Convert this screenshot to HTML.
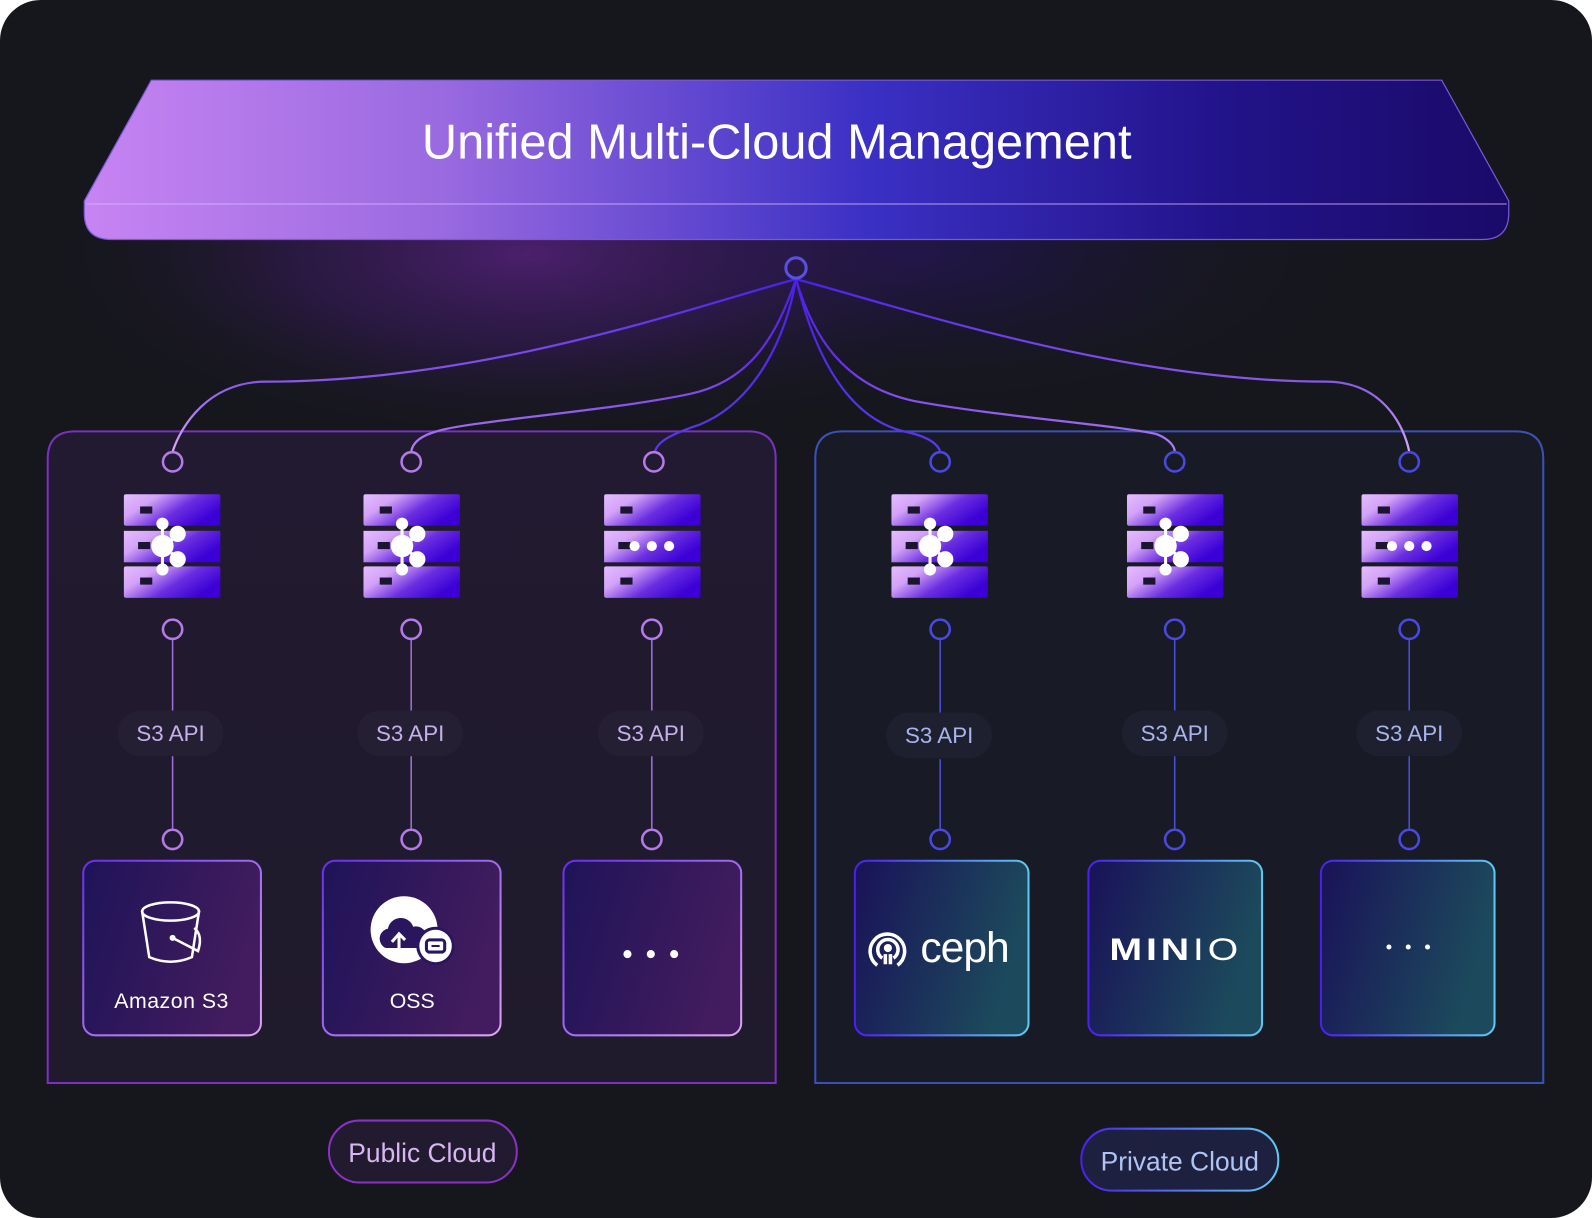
<!DOCTYPE html>
<html><head><meta charset="utf-8"><style>
html,body{margin:0;padding:0;background:#fff;}
svg{display:block;}
text{font-family:"Liberation Sans",sans-serif;}
</style></head><body>
<svg width="1592" height="1218" viewBox="0 0 1568 1200" preserveAspectRatio="none" xmlns="http://www.w3.org/2000/svg">
<defs>
<linearGradient id="ban" x1="0" x2="1" y1="0" y2="0">
<stop offset="0" stop-color="#c784f2"/><stop offset="0.25" stop-color="#9a6ae0"/><stop offset="0.55" stop-color="#3a30c4"/><stop offset="0.8" stop-color="#22138a"/><stop offset="1" stop-color="#1a0a68"/>
</linearGradient>
<radialGradient id="glow" cx="0.5" cy="0.5" r="0.5">
<stop offset="0" stop-color="#4e2070" stop-opacity="0.95"/><stop offset="0.5" stop-color="#3a1a60" stop-opacity="0.5"/><stop offset="1" stop-color="#16171d" stop-opacity="0"/>
</radialGradient>
<radialGradient id="glow2" cx="0.5" cy="0.5" r="0.5">
<stop offset="0" stop-color="#2a1470" stop-opacity="0.6"/><stop offset="1" stop-color="#16171d" stop-opacity="0"/>
</radialGradient>
<clipPath id="below"><rect x="0" y="236" width="1568" height="300"/></clipPath>
<linearGradient id="cg1" gradientUnits="userSpaceOnUse" x1="0" y1="275" x2="0" y2="445">
<stop offset="0" stop-color="#4a20e8"/><stop offset="0.6" stop-color="#8a58e8"/><stop offset="1" stop-color="#d8a8f8"/>
</linearGradient>
<linearGradient id="cg2" gradientUnits="userSpaceOnUse" x1="0" y1="275" x2="0" y2="445">
<stop offset="0" stop-color="#4a20e8"/><stop offset="0.5" stop-color="#6a30e8"/><stop offset="1" stop-color="#b080f0"/>
</linearGradient>
<linearGradient id="cg3" gradientUnits="userSpaceOnUse" x1="0" y1="275" x2="0" y2="445">
<stop offset="0" stop-color="#4a20e8"/><stop offset="1" stop-color="#5a38e8"/>
</linearGradient>
<linearGradient id="srv" x1="0" y1="0" x2="1" y2="0.5">
<stop offset="0" stop-color="#e4bcff"/><stop offset="0.3" stop-color="#d3a2f8"/><stop offset="0.65" stop-color="#6a2ee0"/><stop offset="1" stop-color="#3a00d6"/>
</linearGradient>
<linearGradient id="lbox" x1="0" y1="0" x2="1" y2="0.3">
<stop offset="0" stop-color="#1e1458"/><stop offset="1" stop-color="#421c5e"/>
</linearGradient>
<linearGradient id="lboxs" x1="0" y1="0" x2="1" y2="1">
<stop offset="0" stop-color="#6a2cf0"/><stop offset="1" stop-color="#d8a8f0"/>
</linearGradient>
<linearGradient id="rbox" x1="0" y1="0" x2="1" y2="0.3">
<stop offset="0" stop-color="#1a1258"/><stop offset="1" stop-color="#1c4a5c"/>
</linearGradient>
<linearGradient id="rboxs" x1="0" y1="0" x2="1" y2="0">
<stop offset="0" stop-color="#4a20f0"/><stop offset="1" stop-color="#60c8f0"/>
</linearGradient>
<linearGradient id="lcont" x1="0" y1="0" x2="0" y2="1">
<stop offset="0" stop-color="#221a30"/><stop offset="1" stop-color="#1f1a2c"/>
</linearGradient>
<g id="srvbody">
<rect x="0" y="0" width="95" height="31" rx="2" fill="url(#srv)"/>
<rect x="0" y="36" width="95" height="31" rx="0" fill="url(#srv)"/>
<rect x="0" y="71" width="95" height="31" rx="2" fill="url(#srv)"/>
<rect x="16" y="12" width="12" height="7" fill="#1b1530"/>
<rect x="14" y="47" width="12" height="7" fill="#1b1530"/>
<rect x="16" y="82" width="12" height="7" fill="#1b1530"/>
</g>
<g id="hubicon" fill="#fff" stroke="#fff" stroke-width="3">
<line x1="38" y1="51" x2="38" y2="30"/><line x1="38" y1="51" x2="38" y2="73"/>
<line x1="38" y1="51" x2="52" y2="42"/><line x1="38" y1="51" x2="52" y2="62"/>
<circle cx="38" cy="51" r="11" stroke="none"/>
<circle cx="38" cy="29" r="6" stroke="none"/><circle cx="38" cy="74" r="6" stroke="none"/>
<circle cx="53" cy="39" r="8" stroke="none"/><circle cx="53" cy="64" r="8" stroke="none"/>
</g>
<g id="dots" fill="#fff"><circle cx="30" cy="51" r="5"/><circle cx="47" cy="51" r="5"/><circle cx="64" cy="51" r="5"/></g>
</defs>
<rect x="0" y="0" width="1568" height="1200" rx="40" fill="#16171d"/>
<g clip-path="url(#below)">
<ellipse cx="900" cy="250" rx="450" ry="170" fill="url(#glow2)"/>
<ellipse cx="520" cy="250" rx="480" ry="190" fill="url(#glow)"/>
</g>
<!-- banner -->
<path d="M149,79 L1420,79 L1486,198 L1486,210 Q1486,236 1460,236 L110,236 Q83,236 83,210 L83,198 Z" fill="url(#ban)" stroke="#7a58d8" stroke-width="1.2"/>
<line x1="85" y1="201" x2="1484" y2="201" stroke="#d8b8ff" stroke-opacity="0.55" stroke-width="1.5"/>
<text x="765" y="156" text-anchor="middle" font-size="48" fill="#fff">Unified Multi-Cloud Management</text>
<!-- containers -->
<path d="M47,1067 L47,452 Q47,425 74,425 L737,425 Q764,425 764,452 L764,1067 Z" fill="url(#lcont)" stroke="#7a30c0" stroke-width="2"/>
<path d="M803,1067 L803,452 Q803,425 830,425 L1493,425 Q1520,425 1520,452 L1520,1067 Z" fill="#181a26" stroke="#3a52b8" stroke-width="2"/>
<!-- connectors -->
<g fill="none" stroke-width="2.2">
<path d="M784,275 C690,300 480,376 262,376 C205,376 178,420 170,445" stroke="url(#cg1)"/>
<path d="M784,275 C765,330 740,375 680,388 C600,405 460,415 430,425 C412,430 406,438 405,445" stroke="url(#cg2)"/>
<path d="M784,275 C775,330 745,395 690,418 C660,428 648,435 645,445" stroke="url(#cg3)"/>
<path d="M784,275 C800,340 830,410 890,425 C915,430 924,438 926,445" stroke="url(#cg3)"/>
<path d="M784,275 C800,330 830,380 900,395 C980,410 1110,420 1140,428 C1152,433 1157,440 1157,445" stroke="url(#cg2)"/>
<path d="M784,275 C880,300 1100,376 1306,376 C1362,376 1383,420 1388,445" stroke="url(#cg1)"/>
</g>
<circle cx="784" cy="264" r="10" fill="none" stroke="#5a50e0" stroke-width="3"/>
<g stroke-width="2.5" fill="none">
<g stroke="#b47ae8">
<circle cx="170" cy="455" r="9.5"/><circle cx="405" cy="455" r="9.5"/><circle cx="644" cy="455" r="9.5"/>
<circle cx="170" cy="620" r="9.5"/><circle cx="405" cy="620" r="9.5"/><circle cx="642" cy="620" r="9.5"/>
<circle cx="170" cy="827" r="9.5"/><circle cx="405" cy="827" r="9.5"/><circle cx="642" cy="827" r="9.5"/>
</g>
<g stroke="#4a48e0">
<circle cx="926" cy="455" r="9.5"/><circle cx="1157" cy="455" r="9.5"/><circle cx="1388" cy="455" r="9.5"/>
<circle cx="926" cy="620" r="9.5"/><circle cx="1157" cy="620" r="9.5"/><circle cx="1388" cy="620" r="9.5"/>
<circle cx="926" cy="827" r="9.5"/><circle cx="1157" cy="827" r="9.5"/><circle cx="1388" cy="827" r="9.5"/>
</g>
</g>
<g stroke-width="1.5">
<g stroke="#a070d8">
<line x1="170" y1="630" x2="170" y2="700"/><line x1="170" y1="745" x2="170" y2="817"/>
<line x1="405" y1="630" x2="405" y2="700"/><line x1="405" y1="745" x2="405" y2="817"/>
<line x1="642" y1="630" x2="642" y2="700"/><line x1="642" y1="745" x2="642" y2="817"/>
</g>
<g stroke="#4a50d8">
<line x1="926" y1="630" x2="926" y2="702"/><line x1="926" y1="748" x2="926" y2="817"/>
<line x1="1157" y1="630" x2="1157" y2="700"/><line x1="1157" y1="745" x2="1157" y2="817"/>
<line x1="1388" y1="630" x2="1388" y2="700"/><line x1="1388" y1="745" x2="1388" y2="817"/>
</g>
</g>
<!-- servers -->
<use href="#srvbody" x="122" y="487"/><use href="#hubicon" x="122" y="487"/>
<use href="#srvbody" x="358" y="487"/><use href="#hubicon" x="358" y="487"/>
<use href="#srvbody" x="595" y="487"/><use href="#dots" x="595" y="487"/>
<use href="#srvbody" x="878" y="487"/><use href="#hubicon" x="878" y="487"/>
<use href="#srvbody" x="1110" y="487"/><use href="#hubicon" x="1110" y="487"/>
<use href="#srvbody" x="1341" y="487"/><use href="#dots" x="1341" y="487"/>
<!-- S3 API pills -->
<g font-size="22">
<rect x="116" y="700" width="104" height="45" rx="22" fill="#251f33"/><text x="168" y="730" text-anchor="middle" fill="#c4b0ea">S3 API</text>
<rect x="352" y="700" width="104" height="45" rx="22" fill="#251f33"/><text x="404" y="730" text-anchor="middle" fill="#c4b0ea">S3 API</text>
<rect x="589" y="700" width="104" height="45" rx="22" fill="#251f33"/><text x="641" y="730" text-anchor="middle" fill="#c4b0ea">S3 API</text>
<rect x="873" y="702" width="104" height="45" rx="22" fill="#1e2030"/><text x="925" y="732" text-anchor="middle" fill="#a8b4ea">S3 API</text>
<rect x="1105" y="700" width="104" height="45" rx="22" fill="#1e2030"/><text x="1157" y="730" text-anchor="middle" fill="#a8b4ea">S3 API</text>
<rect x="1336" y="700" width="104" height="45" rx="22" fill="#1e2030"/><text x="1388" y="730" text-anchor="middle" fill="#a8b4ea">S3 API</text>
</g>
<!-- boxes -->
<rect x="82" y="848" width="175" height="172" rx="12" fill="url(#lbox)" stroke="url(#lboxs)" stroke-width="2"/>
<rect x="318" y="848" width="175" height="172" rx="12" fill="url(#lbox)" stroke="url(#lboxs)" stroke-width="2"/>
<rect x="555" y="848" width="175" height="172" rx="12" fill="url(#lbox)" stroke="url(#lboxs)" stroke-width="2"/>
<rect x="842" y="848" width="171" height="172" rx="12" fill="url(#rbox)" stroke="url(#rboxs)" stroke-width="2"/>
<rect x="1072" y="848" width="171" height="172" rx="12" fill="url(#rbox)" stroke="url(#rboxs)" stroke-width="2"/>
<rect x="1301" y="848" width="171" height="172" rx="12" fill="url(#rbox)" stroke="url(#rboxs)" stroke-width="2"/>
<!-- bucket -->
<g fill="none" stroke="#fff" stroke-width="2.5" stroke-linecap="round">
<ellipse cx="168" cy="898" rx="28" ry="9"/>
<path d="M140,898 L147,943 Q168,952 189,943 L196,898"/>
<path d="M170,924 L195,937 Q200,922 192,915"/>
</g>
<circle cx="170" cy="924" r="3" fill="#fff"/>
<text x="169" y="993" text-anchor="middle" font-size="21" fill="#fff" letter-spacing="0.5">Amazon S3</text>
<!-- OSS -->
<circle cx="398" cy="916" r="33" fill="#fff"/>
<path d="M380,934 a10,10 0 0 1 2,-19 a13,13 0 0 1 25,-2 a10,10 0 0 1 5,21 Z" fill="#2a165e"/>
<path d="M393,938 L393,922 M386,928 L393,920 L399,926" stroke="#fff" stroke-width="3" fill="none"/>
<circle cx="429" cy="932" r="19" fill="#2a165e"/><circle cx="429" cy="932" r="16" fill="#fff"/>
<rect x="420" y="926" width="18" height="12" rx="3" fill="none" stroke="#2a165e" stroke-width="3"/>
<line x1="425" y1="932" x2="433" y2="932" stroke="#2a165e" stroke-width="2"/>
<text x="406" y="993" text-anchor="middle" font-size="21" fill="#fff">OSS</text>
<!-- dots -->
<g fill="#fff"><circle cx="618" cy="940" r="4"/><circle cx="641" cy="940" r="4"/><circle cx="664" cy="940" r="4"/>
<circle cx="1368" cy="933" r="2.5"/><circle cx="1387" cy="933" r="2.5"/><circle cx="1406" cy="933" r="2.5"/></g>
<!-- ceph -->
<g fill="none" stroke="#fff" stroke-width="3.5">
<path d="M864,951 A17,17 0 1 1 884,951"/>
<path d="M869,944 A10,10 0 1 1 880,944"/>
<path d="M872,950 L872,940 M877,950 L877,940"/>
</g>
<circle cx="874.5" cy="934" r="4" fill="#fff"/>
<text x="950" y="948" text-anchor="middle" font-size="42" fill="#fff" letter-spacing="-1">ceph</text>
<!-- minio -->
<text x="1158" y="946" text-anchor="middle" font-size="31" fill="#fff" font-weight="bold" letter-spacing="3" transform="translate(1158,0) scale(1.25,1) translate(-1158,0)">MIN<tspan font-weight="normal">IO</tspan></text>
<!-- bottom pills -->
<rect x="324" y="1104" width="185" height="61" rx="30" fill="#221b30" stroke="#8a30c8" stroke-width="2"/>
<text x="416" y="1145" text-anchor="middle" font-size="26" fill="#d8b6f2">Public Cloud</text>
<rect x="1065" y="1112" width="194" height="61" rx="30" fill="#1e2040" stroke="url(#rboxs)" stroke-width="2"/>
<text x="1162" y="1153" text-anchor="middle" font-size="26" fill="#b0c4f4">Private Cloud</text>
</svg>
</body></html>
